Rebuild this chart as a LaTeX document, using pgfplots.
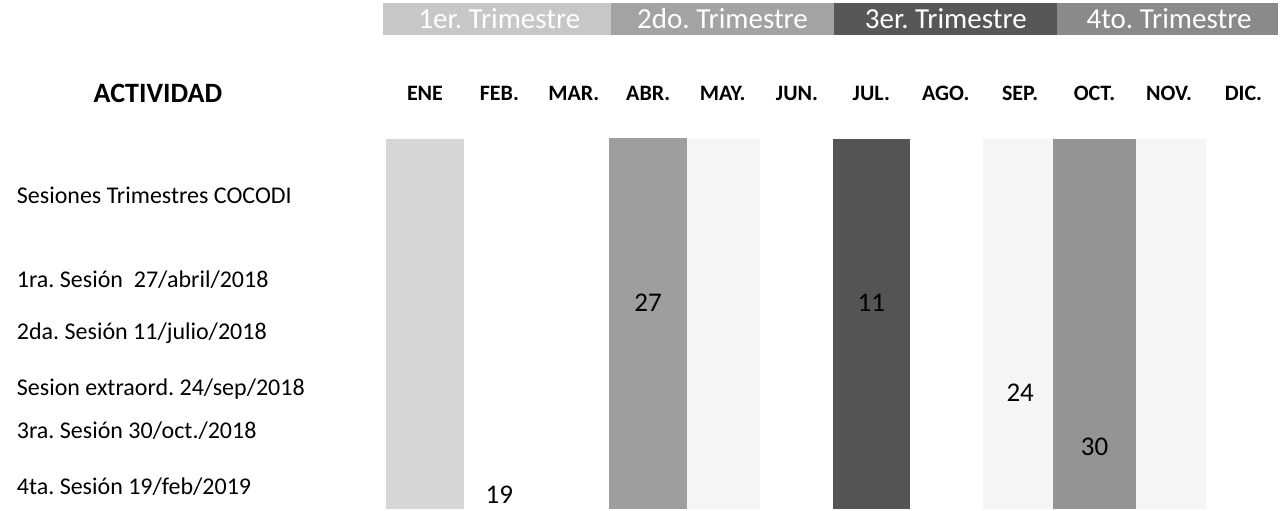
\documentclass[border=0pt]{standalone}
\usepackage{pgfplots}
\pgfplotsset{compat=1.18}
\usepackage{pgfplotstable}
\usepackage{fontspec}
\setmainfont{Carlito}
\frenchspacing

% month columns: x = 1 (ENE) ... 12 (DIC); y in layout units (0 = bottom)
\pgfplotstableread[col sep=comma]{
x,y,label
1,416,ENE
2,416,FEB.
3,416,MAR.
4,416,ABR.
5,416,MAY.
6,416,JUN.
7,416,JUL.
8,416,AGO.
9,416,SEP.
10,416,OCT.
11,416,NOV.
12,416,DIC.
}\months

\pgfplotstableread[col sep=comma]{
x,y,label
-4.49,314,Sesiones Trimestres COCODI
-4.49,229,1ra. Sesión\ \ 27/abril/2018
-4.49,176,2da. Sesión 11/julio/2018
-4.49,120,Sesion extraord. 24/sep/2018
-4.49,78,3ra. Sesión 30/oct./2018
-4.49,22,4ta. Sesión 19/feb/2019
}\rows

% session days placed in their month column
\pgfplotstableread[col sep=comma]{
x,y,label
2,14,19
4,206,27
7,206,11
9,116,24
10,62,30
}\days

\pgfplotstableread[col sep=comma]{
x,y,label
2,490,1er. Trimestre
5,490,2do. Trimestre
8,490,3er. Trimestre
11,490,4to. Trimestre
}\quarters

\begin{document}
\begin{tikzpicture}
\begin{axis}[
  width=641pt, height=254.5pt, scale only axis,
  xmin=-4.712, xmax=12.519, ymin=0, ymax=509,
  hide axis, clip=false,
]
% full extent of the chart area
\addplot[draw=none, mark=none] coordinates {(-4.712,0) (12.519,509)};
% faint speckled columns
\addplot[ybar, bar width=1.0, bar shift=0pt, fill=black!4, draw=none] coordinates {(5,370) (9,370) (11,370)};
% quarter columns
\addplot[ybar, bar width=1.06, bar shift=0pt, fill=black!16, draw=none] coordinates {(1,370)};
\addplot[ybar, bar width=1.04, bar shift=0pt, fill=black!38, draw=none] coordinates {(4,371)};
\addplot[ybar, bar width=1.03, bar shift=0pt, fill=black!67, draw=none] coordinates {(7,370)};
\addplot[ybar, bar width=1.12, bar shift=0pt, fill=black!42, draw=none] coordinates {(10,370)};
% header band
\addplot[fill=black!22, draw=none] coordinates {(0.44,474) (3.5,474) (3.5,506) (0.44,506)} -- cycle;
\addplot[fill=black!36, draw=none] coordinates {(3.5,474) (6.5,474) (6.5,506) (3.5,506)} -- cycle;
\addplot[fill=black!66, draw=none] coordinates {(6.5,474) (9.5,474) (9.5,506) (6.5,506)} -- cycle;
\addplot[fill=black!46, draw=none] coordinates {(9.5,474) (12.47,474) (12.47,506) (9.5,506)} -- cycle;
% texts
\addplot[draw=none, mark=none, nodes near coords, point meta=explicit symbolic,
  nodes near coords style={anchor=center, text=white, font=\fontsize{14.5pt}{16pt}\selectfont}]
  table[x=x, y=y, meta=label] {\quarters};
\addplot[draw=none, mark=none, nodes near coords, point meta=explicit symbolic,
  nodes near coords style={anchor=center, text=black, font=\fontsize{11pt}{13pt}\selectfont\bfseries}]
  table[x=x, y=y, meta=label] {\months};
\addplot[draw=none, mark=none, nodes near coords, point meta=explicit symbolic,
  nodes near coords style={anchor=west, inner sep=0pt, text=black, font=\fontsize{12pt}{14pt}\selectfont}]
  table[x=x, y=y, meta=label] {\rows};
\addplot[draw=none, mark=none, nodes near coords, point meta=explicit symbolic,
  nodes near coords style={anchor=center, text=black, font=\fontsize{13.5pt}{15pt}\selectfont}]
  table[x=x, y=y, meta=label] {\days};
\addplot[draw=none, mark=none, nodes near coords, point meta=explicit symbolic,
  nodes near coords style={anchor=center, text=black, font=\fontsize{14pt}{16pt}\selectfont\bfseries}]
  coordinates {(-2.59,416) [ACTIVIDAD]};
\end{axis}
\end{tikzpicture}
\end{document}
